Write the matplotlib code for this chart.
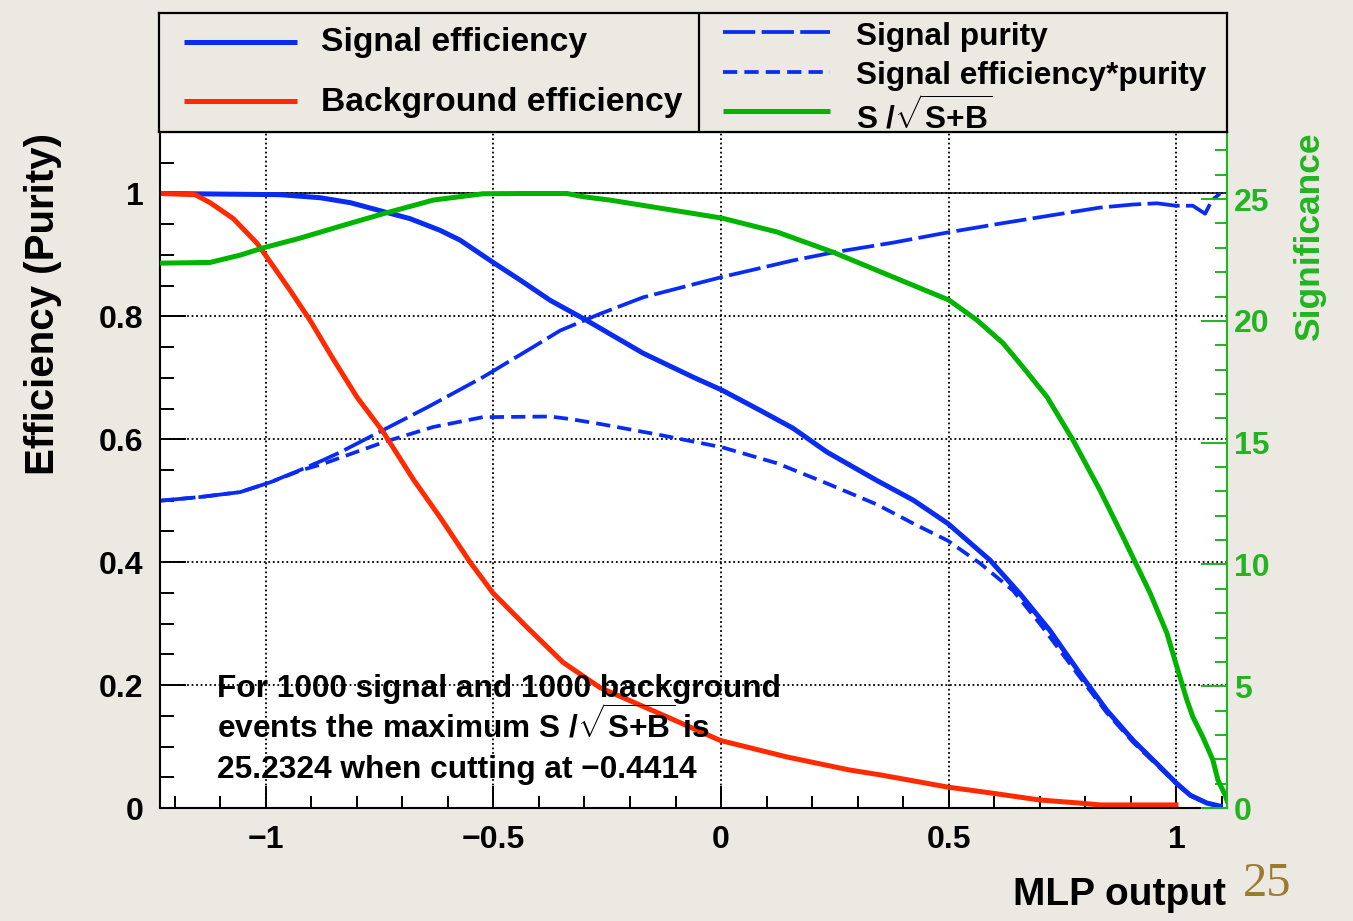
import matplotlib
matplotlib.use('Agg')
import matplotlib.pyplot as plt
from matplotlib.ticker import MultipleLocator, FuncFormatter

plt.rcParams['font.family'] = ['Liberation Sans', 'DejaVu Sans']
plt.rcParams['font.weight'] = 'bold'
plt.rcParams['mathtext.fontset'] = 'custom'
plt.rcParams['mathtext.rm'] = 'Liberation Sans:bold'
plt.rcParams['mathtext.it'] = 'Liberation Sans:bold'
plt.rcParams['mathtext.bf'] = 'Liberation Sans:bold'

# ---- data ----
sig_eff_x = [-1.232, -0.968, -0.880, -0.814, -0.749, -0.683, -0.617, -0.573, -0.501, -0.441,
             -0.375, -0.294, -0.171, -0.061, 0.002, 0.086, 0.158, 0.233, 0.342, 0.422,
             0.498, 0.591, 0.656, 0.722, 0.788, 0.847, 0.905, 0.964, 0.999, 1.030, 1.067, 1.096]
sig_eff = [1.000, 0.998, 0.993, 0.985, 0.972, 0.959, 0.940, 0.924, 0.888, 0.859,
           0.826, 0.793, 0.740, 0.701, 0.680, 0.647, 0.618, 0.579, 0.533, 0.501,
           0.463, 0.403, 0.349, 0.289, 0.219, 0.159, 0.110, 0.067, 0.041, 0.021, 0.008, 0.003]

bkg_eff_x = [-1.232, -1.155, -1.122, -1.071, -1.019, -0.997, -0.946, -0.902, -0.852, -0.799,
             -0.742, -0.676, -0.617, -0.551, -0.501, -0.426, -0.347, -0.266, -0.130, -0.002,
             0.145, 0.281, 0.349, 0.498, 0.597, 0.700, 0.788, 0.832, 0.999]
bkg_eff = [1.000, 0.998, 0.985, 0.959, 0.919, 0.896, 0.842, 0.793, 0.731, 0.668,
           0.612, 0.535, 0.473, 0.400, 0.350, 0.294, 0.237, 0.196, 0.152, 0.110,
           0.083, 0.062, 0.054, 0.034, 0.024, 0.013, 0.008, 0.005, 0.005]

purity_x = [-1.232, -1.144, -1.056, -0.990, -0.924, -0.874, -0.836, -0.742, -0.645, -0.523,
            -0.413, -0.353, -0.266, -0.171, 0.002, 0.158, 0.246, 0.378, 0.501, 0.613,
            0.722, 0.832, 0.905, 0.957, 0.999, 1.036, 1.063, 1.078, 1.096]
purity = [0.500, 0.506, 0.514, 0.530, 0.550, 0.566, 0.579, 0.615, 0.652, 0.701,
          0.750, 0.777, 0.804, 0.831, 0.864, 0.891, 0.904, 0.920, 0.937, 0.951,
          0.964, 0.977, 0.982, 0.984, 0.980, 0.980, 0.967, 0.989, 1.000]

eff_pur_x = [-1.232, -1.144, -1.056, -0.990, -0.924, -0.874, -0.742, -0.632, -0.523, -0.375,
             -0.332, -0.266, -0.134, 0.002, 0.123, 0.233, 0.342, 0.422, 0.498, 0.569,
             0.641, 0.700, 0.788, 0.847, 0.905, 0.964, 0.999, 1.030, 1.067, 1.096]
eff_pur = [0.500, 0.506, 0.514, 0.530, 0.549, 0.560, 0.595, 0.620, 0.636, 0.637,
           0.633, 0.625, 0.607, 0.587, 0.561, 0.528, 0.494, 0.463, 0.435, 0.398,
           0.354, 0.300, 0.213, 0.155, 0.107, 0.065, 0.040, 0.020, 0.008, 0.003]

signif_x = [-1.232, -1.122, -1.056, -1.005, -0.924, -0.843, -0.742, -0.632, -0.523, -0.441,
            -0.338, -0.303, -0.244, -0.134, 0.002, 0.123, 0.246, 0.378, 0.501, 0.562,
            0.619, 0.663, 0.716, 0.773, 0.832, 0.883, 0.942, 0.979, 1.001, 1.023,
            1.036, 1.058, 1.080, 1.091, 1.107, 1.111]
signif = [22.37, 22.40, 22.70, 23.00, 23.40, 23.85, 24.40, 24.96, 25.22, 25.23,
          25.23, 25.10, 24.96, 24.63, 24.22, 23.65, 22.82, 21.80, 20.85, 20.03,
          19.09, 18.10, 16.87, 15.10, 13.05, 11.12, 8.83, 7.18, 5.79, 4.43,
          3.74, 2.91, 1.97, 1.15, 0.53, 0.30]

max_signif = 25.2324
best_cut = -0.4414
n_sig, n_bkg = 1000, 1000

# ---- style ----
BG = '#ece9e2'
BLUE = '#0a2cf2'
RED = '#ff2a00'
GREEN = '#00b400'
AXGREEN = '#22b422'

W, H = 1353, 921
fig = plt.figure(figsize=(W / 100, H / 100), dpi=100)
fig.patch.set_facecolor(BG)


def fx(px):
    return px / W


def fy(py):
    return 1 - py / H


x0, x1, ytop, ybot = 160, 1227, 132, 808
ax = fig.add_axes([fx(x0), fy(ybot), (x1 - x0) / W, (ybot - ytop) / H])
ax.set_facecolor('white')
ax.set_xlim(-1.232, 1.111)
ax.set_ylim(0, 1.1)

ax.xaxis.set_major_locator(MultipleLocator(0.5))
ax.xaxis.set_minor_locator(MultipleLocator(0.1))
ax.yaxis.set_major_locator(MultipleLocator(0.2))
ax.yaxis.set_minor_locator(MultipleLocator(0.05))


def fmt(v, pos):
    if abs(v) < 1e-9:
        return '0'
    s = f'{v:g}'
    return s.replace('-', '\u2212')


ax.xaxis.set_major_formatter(FuncFormatter(fmt))
ax.yaxis.set_major_formatter(FuncFormatter(fmt))
ax.tick_params(axis='both', which='both', direction='in', width=1.4, labelsize=23,
               top=False, right=False)
ax.tick_params(axis='y', which='major', length=19, pad=12)
ax.tick_params(axis='y', which='minor', length=10)
ax.tick_params(axis='x', which='major', length=16, pad=12)
ax.tick_params(axis='x', which='minor', length=8.5)
for s in ['left', 'bottom', 'top']:
    ax.spines[s].set_linewidth(1.5)
ax.spines['right'].set_visible(False)

ax.grid(True, which='major', color='black', linestyle=(0, (1, 1.5)), linewidth=1.3)
ax.set_axisbelow(True)
ax.axhline(1.0, color='black', lw=1.1, zorder=1.5)

lw_s = 3.6
lw_d = 2.7
ax.plot(purity_x, purity, color=BLUE, lw=lw_d, dashes=(8.6, 1.7))
ax.plot(eff_pur_x, eff_pur, color=BLUE, lw=lw_d, dashes=(3.8, 1.9))
ax.plot(sig_eff_x, sig_eff, color=BLUE, lw=lw_s)
ax.plot(bkg_eff_x, bkg_eff, color=RED, lw=lw_s)

ax2 = ax.twinx()
ax2.set_ylim(0, 1.1 * max_signif)
ax2.plot(signif_x, signif, color=GREEN, lw=lw_s)
ax2.yaxis.set_major_locator(MultipleLocator(5))
ax2.yaxis.set_minor_locator(MultipleLocator(1))
ax2.tick_params(axis='y', which='both', direction='in', colors=AXGREEN, width=1.4,
                labelsize=23)
ax2.tick_params(axis='y', which='major', length=19, pad=5)
ax2.tick_params(axis='y', which='minor', length=9)
for s in ['left', 'bottom', 'top']:
    ax2.spines[s].set_visible(False)
ax2.spines['right'].set_color(AXGREEN)
ax2.spines['right'].set_linewidth(1.5)
for lab in ax2.get_yticklabels():
    lab.set_color(AXGREEN)

# axis titles
fig.text(fx(43), fy(133), 'Efficiency (Purity)', rotation=90, ha='center', va='top',
         fontsize=29)
fig.text(fx(1310), fy(132), 'Significance', rotation=90, ha='center', va='top',
         fontsize=25.5, color=AXGREEN)
fig.text(fx(1226), fy(905), 'MLP output', ha='right', va='baseline', fontsize=28)

# note inside the frame
sqrt_sb = r'$\sqrt{S{+}B}$'
note = [f'For {n_sig} signal and {n_bkg} background',
        'events the maximum S /' + sqrt_sb + ' is',
        f'{max_signif} when cutting at {best_cut}'.replace('-', '\u2212')]
for line, base in zip(note, [697, 737, 778]):
    fig.text(fx(217), fy(base), line, ha='left', va='baseline', fontsize=22.8)

# legend boxes
lg = fig.add_axes([fx(159), fy(132), (1227 - 159) / W, (132 - 13) / H])
lg.set_xlim(159, 1227)
lg.set_ylim(132, 13)
lg.set_facecolor(BG)
lg.set_xticks([])
lg.set_yticks([])
for s in lg.spines.values():
    s.set_linewidth(1.6)
lg.axvline(699, color='black', lw=1.6)

lg.plot([184, 297], [42.5, 42.5], color=BLUE, lw=lw_s, solid_capstyle='butt')
lg.plot([184, 297], [101.5, 101.5], color=RED, lw=lw_s, solid_capstyle='butt')
lg.text(321, 51, 'Signal efficiency', fontsize=24.2, va='baseline')
lg.text(321, 111, 'Background efficiency', fontsize=24.2, va='baseline')

lg.plot([723, 830], [32.5, 32.5], color=BLUE, lw=lw_d, dashes=(8.6, 1.7))
lg.plot([723, 830], [72, 72], color=BLUE, lw=lw_d, dashes=(3.8, 1.9))
lg.plot([723, 830], [111.5, 111.5], color=GREEN, lw=lw_s, solid_capstyle='butt')
lg.text(856, 45, 'Signal purity', fontsize=22.8, va='baseline')
lg.text(856, 84, 'Signal efficiency*purity', fontsize=22.8, va='baseline')
lg.text(856, 128, 'S /' + sqrt_sb, fontsize=22.8, va='baseline')

# slide page number
fig.text(fx(1243), fy(896), '25', ha='left', va='baseline', fontsize=35,
         family='Liberation Serif', weight='normal', color='#9b7b2e')

fig.savefig('out.png', dpi=100, facecolor=BG)
